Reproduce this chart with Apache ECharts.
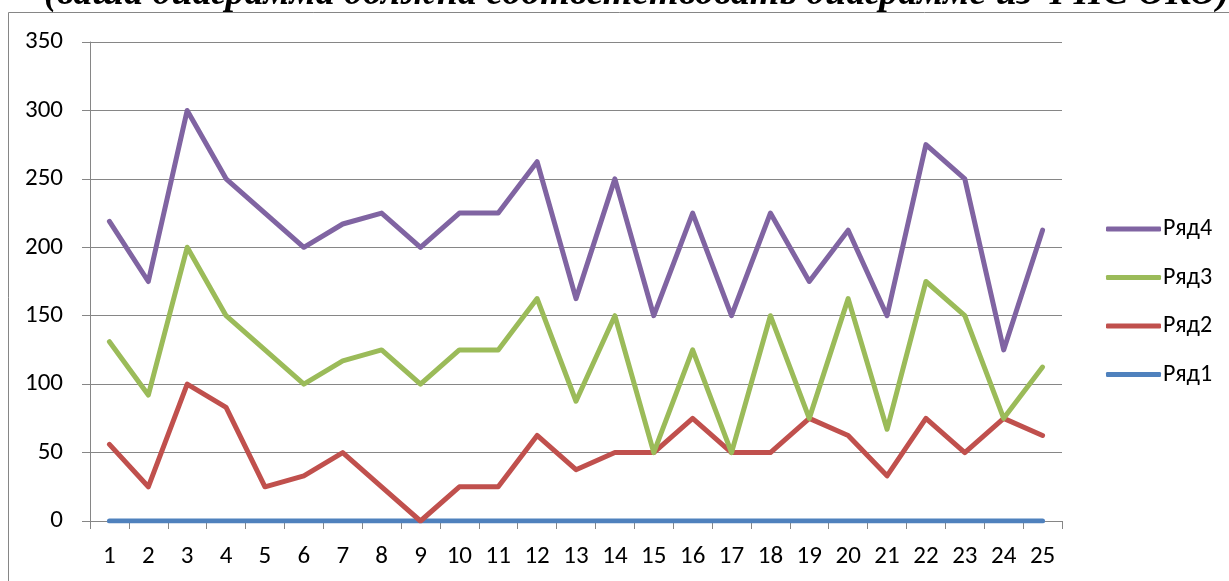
<!DOCTYPE html>
<html>
<head>
<meta charset="utf-8">
<script src="https://cdn.jsdelivr.net/npm/echarts@6/dist/echarts.min.js"></script>
<style>
  html, body { margin: 0; padding: 0; background: #fff; }
  #main { width: 1229px; height: 581px; }
</style>
</head>
<body>
<div id="main"></div>
<script>
var categories = ['1', '2', '3', '4', '5', '6', '7', '8', '9', '10', '11', '12', '13',
    '14', '15', '16', '17', '18', '19', '20', '21', '22', '23', '24', '25'];

var row1 = [0, 0, 0, 0, 0, 0, 0, 0, 0, 0, 0, 0, 0, 0, 0, 0, 0, 0, 0, 0, 0, 0, 0, 0, 0];
var row2 = [56, 25, 100, 83, 25, 33, 50, 25, 0, 25, 25, 62.5, 37.5, 50, 50, 75, 50, 50, 75, 62.5, 33, 75, 50, 75, 62.5];
var row3 = [131, 92, 200, 150, 125, 100, 117, 125, 100, 125, 125, 162.5, 87.5, 150, 50, 125, 50, 150, 75, 162.5, 67, 175, 150, 75, 112.5];
var row4 = [219, 175, 300, 250, 225, 200, 217, 225, 200, 225, 225, 262.5, 162.5, 250, 150, 225, 150, 225, 175, 212.5, 150, 275, 250, 125, 212.5];

var seriesNames = ['Ряд1', 'Ряд2', 'Ряд3', 'Ряд4'];
var yTicks = [0, 50, 100, 150, 200, 250, 300, 350];

var titleText = '(ваша диаграмма должна соответствовать диаграмме из ФИС ОКО)';

var myChart = echarts.init(document.getElementById('main'));
var axisFont = 'Carlito, Calibri, "Noto Sans", sans-serif';
var gray = '#868686';

function makeLine(name, data, color) {
    return {
        name: name,
        type: 'line',
        data: data,
        symbol: 'none',
        animation: false,
        lineStyle: {color: color, width: 5, cap: 'round', join: 'round'},
        itemStyle: {color: color}
    };
}

myChart.setOption({
    animation: false,
    graphic: [
        {
            type: 'rect',
            shape: {x: 8.5, y: 12.5, width: 1400, height: 800},
            style: {fill: 'none', stroke: gray, lineWidth: 1},
            z: 0
        },
        {
            type: 'text',
            x: 44,
            y: -25,
            style: {
                text: titleText,
                font: 'italic bold 38px "Liberation Serif", "Times New Roman", serif',
                fill: '#000'
            },
            z: 1
        }
    ],
    grid: {left: 90, right: 167, top: 42, bottom: 60},
    legend: {
        orient: 'vertical',
        left: 1101,
        top: 212,
        icon: 'roundRect',
        itemWidth: 55,
        itemHeight: 5,
        itemGap: 24.5,
        data: ['Ряд4', 'Ряд3', 'Ряд2', 'Ряд1'],
        textStyle: {fontFamily: axisFont, fontSize: 24, lineHeight: 24, color: '#000', padding: [0, 0, 0, -3]}
    },
    xAxis: {
        type: 'category',
        data: categories,
        boundaryGap: true,
        axisLine: {lineStyle: {color: gray, width: 1}},
        axisTick: {show: true, length: 8, lineStyle: {color: gray}},
        axisLabel: {color: '#000', fontFamily: axisFont, fontSize: 25, margin: 23, interval: 0}
    },
    yAxis: {
        type: 'value',
        min: yTicks[0],
        max: yTicks[yTicks.length - 1],
        interval: 50,
        axisLine: {show: true, lineStyle: {color: gray, width: 1}},
        axisTick: {show: true, length: 8, lineStyle: {color: gray}},
        axisLabel: {color: '#000', fontFamily: axisFont, fontSize: 25, margin: 27},
        splitLine: {lineStyle: {color: gray, width: 1}}
    },
    series: [
        makeLine(seriesNames[0], row1, '#4F81BD'),
        makeLine(seriesNames[1], row2, '#C0504D'),
        makeLine(seriesNames[2], row3, '#9BBB59'),
        makeLine(seriesNames[3], row4, '#8064A2')
    ]
});
</script>
</body>
</html>
